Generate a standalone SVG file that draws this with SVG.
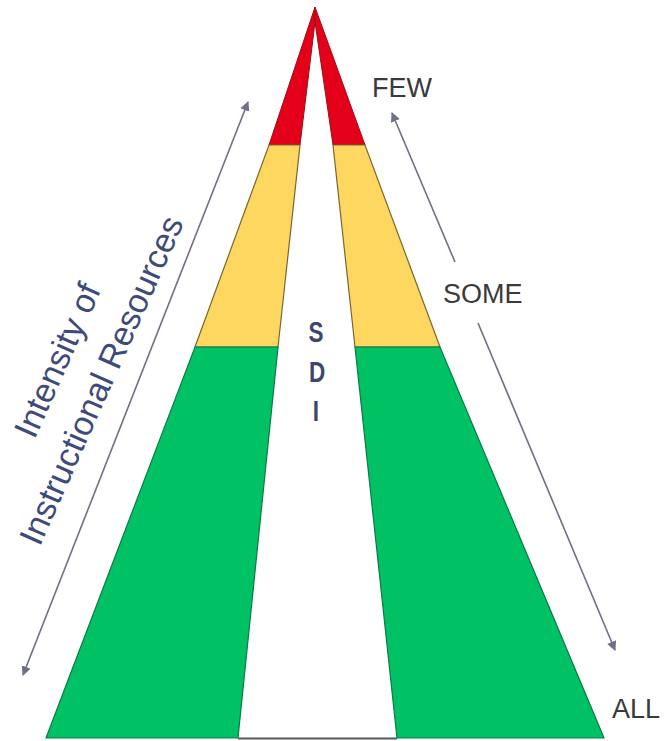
<svg xmlns="http://www.w3.org/2000/svg" width="669" height="741" viewBox="0 0 669 741">
  <style>
    .red { fill: #E4001B; stroke: #9a1010; stroke-width: 1; }
    .yel { fill: #FDD760; stroke: #7a6630; stroke-width: 1.2; }
    .grn { fill: #00C265; stroke: #0b7a48; stroke-width: 1.2; }
    .lbl { font-family: "Liberation Sans", Arial, sans-serif; font-size: 27px; fill: #3a3a3a; }
    .sdi { font-family: "Liberation Sans", Arial, sans-serif; font-size: 30px; font-weight: bold; fill: #3d4670; text-anchor: middle; }
    .axis { font-family: "Liberation Sans", Arial, sans-serif; font-size: 34px; fill: #3d4a7a; text-anchor: middle; }
    .arrow { stroke: #6d7088; stroke-width: 1.6; fill: none; }
  </style>
  <defs>
    <marker id="ah" viewBox="0 0 10 10" refX="9" refY="5" markerWidth="6" markerHeight="6" orient="auto-start-reverse" markerUnits="strokeWidth">
      <path d="M0,0 L10,5 L0,10 z" fill="#6d7088"/>
    </marker>
  </defs>
  <rect width="669" height="741" fill="#ffffff"/>

  <g id="band-red">
    <polygon class="red" points="315,7 269,145 300,145 315,22"/>
    <polygon class="red" points="315,7 315,22 333,145 365,145"/>
  </g>
  <g id="band-yellow">
    <polygon class="yel" points="269,145 300,145 278,347 195,347"/>
    <polygon class="yel" points="333,145 365,145 440,347 355,347"/>
  </g>
  <g id="band-green">
    <polygon class="grn" points="195,347 278,347 238,738 46,738"/>
    <polygon class="grn" points="355,347 440,347 604,738 397,738"/>
  </g>
  <line x1="238" y1="738.5" x2="397" y2="738.5" stroke="#555a60" stroke-width="2"/>

  <g id="connectors">
    <line class="arrow" x1="248" y1="102" x2="23" y2="675" marker-start="url(#ah)" marker-end="url(#ah)"/>
    <line class="arrow" x1="455" y1="262" x2="392" y2="113" marker-end="url(#ah)"/>
    <line class="arrow" x1="478" y1="323" x2="615" y2="650" marker-end="url(#ah)"/>
  </g>

  <g id="label-few"><text class="lbl" x="372" y="97">FEW</text></g>
  <g id="label-some"><text class="lbl" x="443" y="303">SOME</text></g>
  <g id="label-all"><text class="lbl" x="612" y="718">ALL</text></g>

  <g id="label-sdi">
    <text class="sdi" transform="translate(316,342) scale(0.75,1)">S</text>
    <text class="sdi" transform="translate(317,382) scale(0.75,1)">D</text>
    <text class="sdi" transform="translate(316,421) scale(0.75,1)">I</text>
  </g>

  <g id="label-axis">
    <text class="axis" transform="translate(68,365) rotate(-66)">Intensity of</text>
    <text class="axis" transform="translate(112,385) rotate(-66)">Instructional Resources</text>
  </g>
</svg>
